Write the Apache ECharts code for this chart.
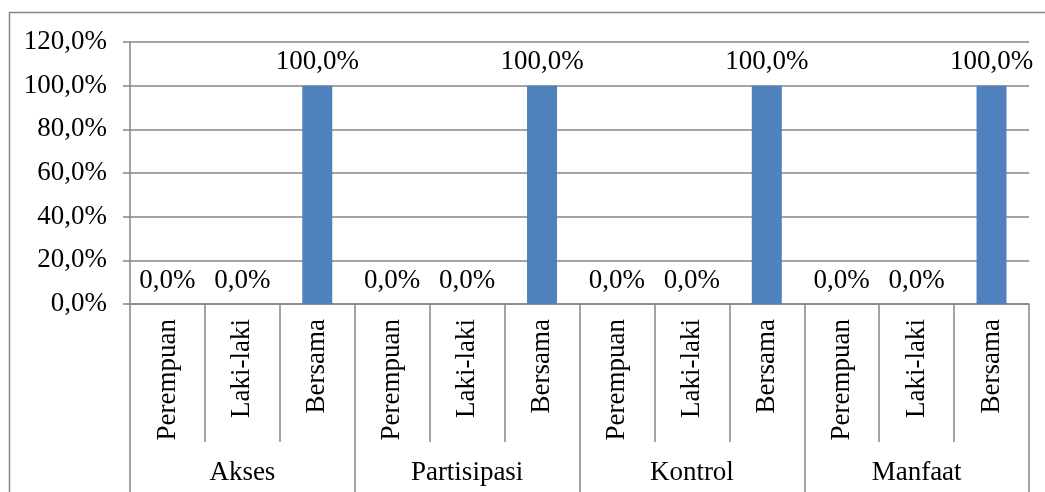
<!DOCTYPE html>
<html>
<head>
<meta charset="utf-8">
<script src="https://cdn.jsdelivr.net/npm/echarts@6/dist/echarts.min.js"></script>
<style>
  html, body { margin: 0; padding: 0; background: #ffffff; }
  #main { width: 1045px; height: 492px; }
</style>
</head>
<body>
<div id="main"></div>
<script>
// data
const groups = ['Akses', 'Partisipasi', 'Kontrol', 'Manfaat'];
const subCats = ['Perempuan', 'Laki-laki', 'Bersama'];
const values = [0, 0, 100, 0, 0, 100, 0, 0, 100, 0, 0, 100];
const yTicks = [0, 20, 40, 60, 80, 100, 120];

const categories = [];
groups.forEach(() => subCats.forEach((s) => categories.push(s)));

const fmt = (v) => Number(v).toFixed(1).replace('.', ',') + '%';
const lineColor = '#868686';
const font = '"Liberation Serif", "Times New Roman", serif';
const fs = 27;

const chart = echarts.init(document.getElementById('main'));
chart.setOption({
  animation: false,
  textStyle: { fontFamily: font },
  grid: { left: 130, right: 16, top: 42, bottom: 188 },
  graphic: [
    {
      type: 'rect',
      shape: { x: 9.5, y: 12.5, width: 1100, height: 600 },
      style: { fill: 'none', stroke: lineColor, lineWidth: 1.5 },
      z: -1
    }
  ],
  xAxis: [
    {
      type: 'category',
      data: categories,
      position: 'bottom',
      axisLine: { show: true, lineStyle: { color: lineColor, width: 1.5 } },
      axisTick: { show: true, interval: 0, length: 138, lineStyle: { color: lineColor, width: 1.5 } },
      axisLabel: {
        interval: 0,
        rotate: 90,
        margin: 15,
        color: '#000',
        fontSize: fs,
        fontFamily: font
      }
    },
    {
      type: 'category',
      data: groups,
      position: 'bottom',
      axisLine: { show: false },
      axisTick: { show: true, interval: 0, length: 190, lineStyle: { color: lineColor, width: 1.5 } },
      axisLabel: {
        interval: 0,
        margin: 155,
        color: '#000',
        fontSize: fs,
        fontFamily: font
      }
    }
  ],
  yAxis: {
    type: 'value',
    min: 0,
    max: 120,
    interval: 20,
    axisLine: { show: true, lineStyle: { color: lineColor, width: 1.5 } },
    axisTick: { show: true, length: 7, lineStyle: { color: lineColor, width: 1.5 } },
    splitLine: { show: true, lineStyle: { color: lineColor, width: 1.5 } },
    axisLabel: {
      margin: 23,
      color: '#000',
      fontSize: fs,
      fontFamily: font,
      formatter: (v) => (yTicks.includes(v) ? fmt(v) : '')
    }
  },
  series: [
    {
      type: 'bar',
      xAxisIndex: 0,
      data: values,
      barWidth: 30,
      itemStyle: { color: '#4F81BD' },
      label: {
        show: true,
        position: 'top',
        distance: 10,
        color: '#000',
        fontSize: fs,
        fontFamily: font,
        formatter: (p) => fmt(p.value)
      }
    }
  ]
});
</script>
</body>
</html>
